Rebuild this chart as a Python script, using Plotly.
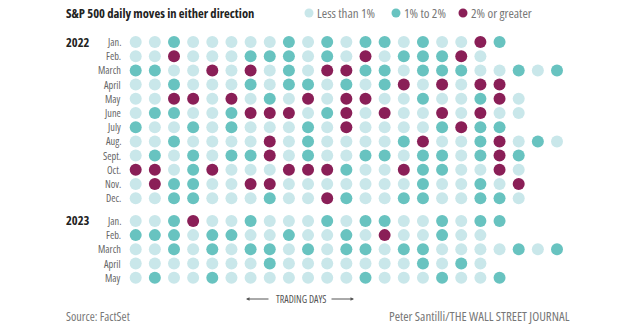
import plotly.graph_objects as go

# 0 = less than 1%, 1 = 1% to 2%, 2 = 2% or greater (one digit per trading day)
months_2022 = ["Jan.", "Feb.", "March", "April", "May", "June", "July",
               "Aug.", "Sept.", "Oct.", "Nov.", "Dec."]
moves_2022 = [
    "00100000101011010021",
    "0020001110102011120",
    "11002020102211011100101",
    "00100010110101202022",
    "002202010202200100120",
    "011001222012020020200",
    "10010100010200001211",
    "00100002010000120012010",
    "010101120100110110121",
    "220120002221002110020",
    "021100220000000100102",
    "001100010021001100110",
]
months_2023 = ["Jan.", "Feb.", "March", "April", "May"]
moves_2023 = [
    "00120010001011001011",
    "1110110010010200100",
    "00101011010110110000101",
    "0000000100000001010",
    "01001000000010001001",
]
categories = ["Less than 1%", "1% to 2%", "2% or greater"]
colors = ["#c9e7ea", "#68c3c0", "#8a1f57"]

# row positions (2023 block separated by a gap)
rows_2022 = list(range(12))
rows_2023 = [12.6 + i for i in range(5)]

xs = {0: [], 1: [], 2: []}
ys = {0: [], 1: [], 2: []}
for rows, moves in ((rows_2022, moves_2022), (rows_2023, moves_2023)):
    for r, s in zip(rows, moves):
        for d, ch in enumerate(s, start=1):
            k = int(ch)
            xs[k].append(d)
            ys[k].append(r)

fig = go.Figure()
for k in range(3):
    fig.add_trace(go.Scatter(
        x=xs[k], y=ys[k], mode="markers", name=categories[k],
        marker=dict(size=12, color=colors[k], line=dict(width=0)),
        showlegend=False, hoverinfo="skip"))

W, H = 640, 334
FONT = "Open Sans, Roboto, sans-serif"


def cond(t, stretch="condensed"):
    return '<span style="font-stretch:' + stretch + '">' + t + '</span>'


def px(x):
    return x / W


def py(y):
    return 1 - y / H


ann = []
ann.append(dict(text=cond("<b>S&P 500 daily moves in either direction</b>"),
                x=px(64), y=py(13), xref="paper", yref="paper",
                xanchor="left", yanchor="middle", showarrow=False,
                font=dict(family=FONT, size=12.6, color="#222222")))

# legend
leg_dots = [309, 396, 463]
shapes = []
for i, cx in enumerate(leg_dots):
    r = 4.5
    shapes.append(dict(type="circle", xref="paper", yref="paper",
                       x0=px(cx - r), x1=px(cx + r), y0=py(13 + r), y1=py(13 - r),
                       fillcolor=colors[i], line=dict(width=0)))
    ann.append(dict(text=cond(categories[i]), x=px(cx + 6), y=py(13),
                    xref="paper", yref="paper", xanchor="left", yanchor="middle",
                    showarrow=False,
                    font=dict(family=FONT, size=13, color="#777777")))

for rows, months, year in ((rows_2022, months_2022, "2022"),
                           (rows_2023, months_2023, "2023")):
    ann.append(dict(text=cond("<b>" + year + "</b>"), x=px(64), y=rows[0],
                    xref="paper", yref="y", xanchor="left", yanchor="middle",
                    showarrow=False, font=dict(family=FONT, size=12.5, color="#222222")))
    for r, m in zip(rows, months):
        ann.append(dict(text=cond(m, "semi-condensed"), x=px(122), y=r,
                        xref="paper", yref="y",
                        xanchor="right", yanchor="middle", showarrow=False,
                        borderpad=0,
                        font=dict(family=FONT, size=10.3, color="#666666")))

ann.append(dict(text=cond("TRADING DAYS"), x=px(301), y=py(299), xref="paper",
                yref="paper", xanchor="center", yanchor="middle", showarrow=False,
                font=dict(family=FONT, size=10, color="#555555")))
ann.append(dict(text="", x=px(246), y=py(299), xref="paper", yref="paper",
                showarrow=True, ax=24, ay=0, arrowhead=2, arrowsize=0.7,
                arrowwidth=1, arrowcolor="#555555"))
ann.append(dict(text="", x=px(354), y=py(299), xref="paper", yref="paper",
                showarrow=True, ax=-24, ay=0, arrowhead=2, arrowsize=0.7,
                arrowwidth=1, arrowcolor="#555555"))
ann.append(dict(text=cond("Source: FactSet"), x=px(64), y=py(316), xref="paper",
                yref="paper", xanchor="left", yanchor="middle", showarrow=False,
                font=dict(family=FONT, size=12.2, color="#777777")))
ann.append(dict(text=cond("Peter Santilli/THE WALL STREET JOURNAL"), x=px(572), y=py(316),
                xref="paper", yref="paper", xanchor="right", yanchor="middle",
                showarrow=False, font=dict(family=FONT, size=12.9, color="#777777")))

x_c1, x_step = 135.7, 19.15
y_r0, y_step = 42.0, 14.2
fig.update_layout(
    width=W, height=H, margin=dict(l=0, r=0, t=0, b=0),
    paper_bgcolor="white", plot_bgcolor="white",
    xaxis=dict(range=[1 - x_c1 / x_step, 1 + (W - x_c1) / x_step],
               visible=False, fixedrange=True),
    yaxis=dict(range=[(H - y_r0) / y_step, -y_r0 / y_step],
               visible=False, fixedrange=True),
    annotations=ann, shapes=shapes,
)
fig.write_html("out.html")
